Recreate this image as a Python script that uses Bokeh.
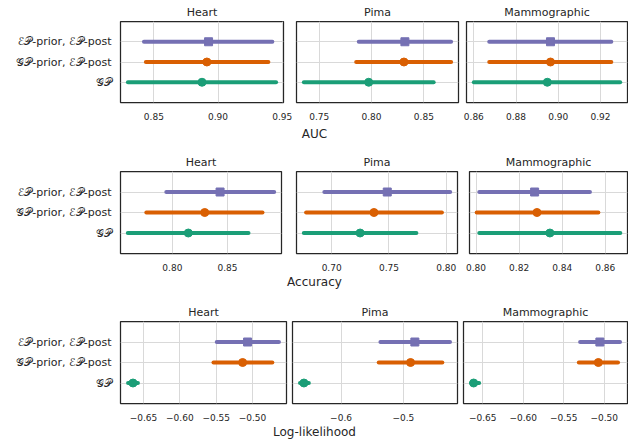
from bokeh.plotting import figure
from bokeh.layouts import column, row
from bokeh.models import ColumnDataSource, FixedTicker, CustomJSTickFormatter, Range1d, Label, Spacer
from bokeh.embed import file_html
from bokeh.resources import INLINE

# ---------------- data ----------------
methods = ["\U0001D4A2\U0001D4AB", "\U0001D4A2\U0001D4AB-prior, \u2130\U0001D4AB-post", "\u2130\U0001D4AB-prior, \u2130\U0001D4AB-post"]
datasets = ["Heart", "Pima", "Mammographic"]
metric_names = ["AUC", "Accuracy", "Log-likelihood"]

# order of each inner list: GP, GP-prior/EP-post, EP-prior/EP-post ; outer: Heart, Pima, Mammographic
auc_mean = [[0.8875, 0.8913, 0.8926], [0.7973, 0.8310, 0.8319], [0.8948, 0.8963, 0.8963]]
auc_lo = [[0.8298, 0.8438, 0.8423], [0.7353, 0.7853, 0.7878], [0.8600, 0.8673, 0.8673]]
auc_hi = [[0.9452, 0.9392, 0.9423], [0.8594, 0.8761, 0.8761], [0.9293, 0.9251, 0.9251]]

acc_mean = [[0.8145, 0.8294, 0.8433], [0.7248, 0.7369, 0.7485], [0.8343, 0.8283, 0.8272]]
acc_lo = [[0.7596, 0.7764, 0.7945], [0.6757, 0.6777, 0.6936], [0.8015, 0.8003, 0.8015]]
acc_hi = [[0.8691, 0.8818, 0.8924], [0.7739, 0.7962, 0.8034], [0.8670, 0.8568, 0.8529]]

ll_mean = [[-0.6645, -0.5136, -0.5068], [-0.6596, -0.4884, -0.4815], [-0.6613, -0.5073, -0.5054]]
ll_lo = [[-0.6713, -0.5537, -0.5492], [-0.6659, -0.5395, -0.5368], [-0.6646, -0.5314, -0.5298]]
ll_hi = [[-0.6577, -0.4727, -0.4636], [-0.6517, -0.4374, -0.4251], [-0.6545, -0.4830, -0.4805]]

auc_ticks = [[0.85, 0.90, 0.95], [0.75, 0.80, 0.85], [0.86, 0.88, 0.90, 0.92]]
acc_ticks = [[0.80, 0.85, 0.90], [0.70, 0.75, 0.80], [0.80, 0.82, 0.84, 0.86]]
ll_ticks = [[-0.65, -0.60, -0.55, -0.50], [-0.6, -0.5], [-0.65, -0.60, -0.55, -0.50]]
auc_decimals = [2, 2, 2]
acc_decimals = [2, 2, 2]
ll_decimals = [2, 1, 2]

# ---------------- style ----------------
FONT = "DejaVu Sans"
TXT = "#262626"
GRID = "#d9d9d9"
colors = ["#1b9e77", "#d95f02", "#7570b3"]
markers = ["circle", "circle", "square"]

TOP = 21
BOTTOM = 23
row_frame_h = [81, 82, 82]
row_frames = [[163, 162, 161], [161, 161, 158], [166, 165, 164]]
row_borders = [[(120, 10), (3, 3), (5, 1)],
               [(120, 10), (5, 4), (8, 1)],
               [(120, 3), (3, 3), (3, 1)]]
label_h = [17, 14, 13]
label_y = [9, 8.3, 7.3]
gaps = [8, 10]

metrics = [
    (auc_mean, auc_lo, auc_hi, auc_ticks, auc_decimals),
    (acc_mean, acc_lo, acc_hi, acc_ticks, acc_decimals),
    (ll_mean, ll_lo, ll_hi, ll_ticks, ll_decimals),
]


def style_axis(ax):
    ax.axis_line_color = None
    ax.major_tick_line_color = None
    ax.minor_tick_line_color = None
    ax.major_tick_out = 0
    ax.major_tick_in = 0
    ax.minor_tick_out = 0
    ax.minor_tick_in = 0
    ax.axis_label = None
    ax.axis_label_standoff = 0


def make_panel(r, d):
    mean, lo, hi, ticks, decs = metrics[r]
    m, l, h = mean[d], lo[d], hi[d]
    span = max(h) - min(l)
    xr = Range1d(min(l) - 0.05 * span, max(h) + 0.05 * span)
    bl, br = row_borders[r][d]
    fw = row_frames[r][d]
    p = figure(frame_width=fw, frame_height=row_frame_h[r], x_range=xr, y_range=Range1d(-1, 3),
               toolbar_location=None, output_backend="svg",
               min_border_left=bl, min_border_right=br, min_border_top=TOP, min_border_bottom=BOTTOM,
               background_fill_color="white", border_fill_color="white")
    p.title.text = datasets[d]
    p.title.align = "center"
    p.title.text_font = FONT
    p.title.text_font_size = "11px"
    p.title.text_font_style = "normal"
    p.title.text_color = TXT
    p.title.standoff = 5
    p.outline_line_color = TXT
    p.outline_line_width = 1.25
    p.outline_line_alpha = 1.0

    xa = p.xaxis[0]
    style_axis(xa)
    xa.ticker = FixedTicker(ticks=ticks[d])
    xa.formatter = CustomJSTickFormatter(args=dict(dec=decs[d]),
                                         code="return (tick < 0 ? '\\u2212' : '') + Math.abs(tick).toFixed(dec);")
    xa.major_label_standoff = 10
    xa.major_label_text_font = FONT
    xa.major_label_text_font_size = "9px"
    xa.major_label_text_color = TXT

    ya = p.yaxis[0]
    style_axis(ya)
    ya.ticker = FixedTicker(ticks=[0, 1, 2])
    if d == 0:
        ya.major_label_overrides = {0: methods[0], 1: methods[1], 2: methods[2]}
        ya.major_label_standoff = 9
        ya.major_label_text_font = FONT
        ya.major_label_text_font_size = "11px"
        ya.major_label_text_color = TXT
    else:
        ya.visible = False

    p.xgrid.grid_line_color = GRID
    p.ygrid.grid_line_color = GRID
    p.xgrid.grid_line_width = 1
    p.ygrid.grid_line_width = 1

    for k in range(3):
        src = ColumnDataSource(dict(lo=[l[k]], hi=[h[k]], mean=[m[k]], y=[k]))
        p.segment(x0="lo", x1="hi", y0="y", y1="y", source=src, line_color=colors[k],
                  line_width=4, line_cap="round")
        p.scatter(x="mean", y="y", source=src, marker=markers[k], size=8,
                  fill_color=colors[k], line_color=colors[k], line_width=1)
    return p


def make_label(text, h, y):
    f = figure(width=628, height=h, toolbar_location=None, output_backend="svg",
               min_border=0, x_axis_location=None, y_axis_location=None,
               x_range=Range1d(0, 1), y_range=Range1d(0, 1))
    f.outline_line_color = None
    f.xgrid.visible = False
    f.ygrid.visible = False
    f.add_layout(Label(x=314, y=y, x_units="screen", y_units="screen", text=text,
                       text_align="center", text_baseline="middle", text_font=FONT,
                       text_font_size="12px", text_color=TXT))
    return f


items = []
for r in range(3):
    panels = [make_panel(r, d) for d in range(3)]
    items.append(row(*panels, spacing=0))
    items.append(make_label(metric_names[r], label_h[r], label_y[r]))
    if r < 2:
        items.append(Spacer(width=628, height=gaps[r]))

layout = column(*items, spacing=0)

open("out.html", "w").write(file_html(layout, INLINE, title="chart"))
